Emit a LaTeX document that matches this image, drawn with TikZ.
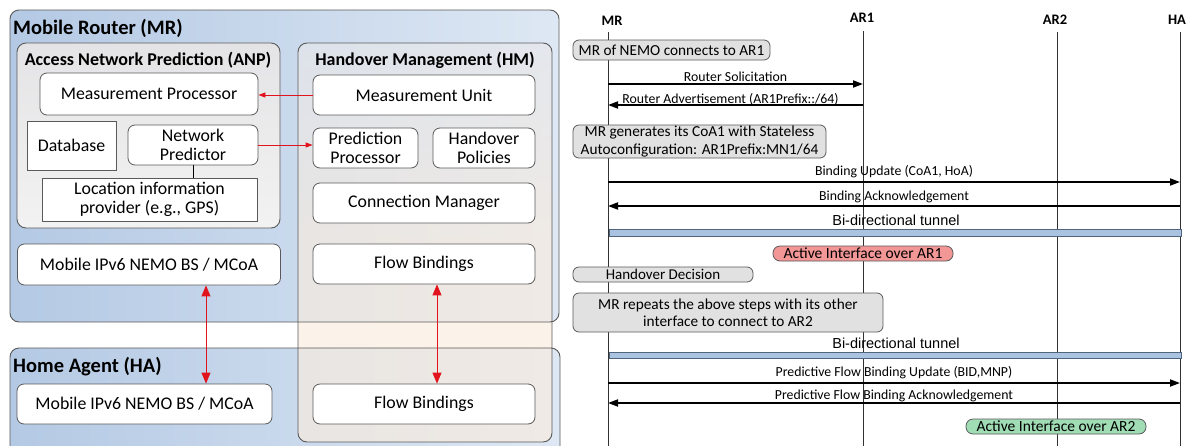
\documentclass[tikz,border=0pt]{standalone}
\usepackage{fontspec}
\setmainfont{Carlito}
\newfontfamily\arialf{Liberation Sans}
\usetikzlibrary{arrows.meta,calc}
\definecolor{mrA}{RGB}{180,201,228}
\definecolor{mrB}{RGB}{222,232,244}
\definecolor{greyA}{RGB}{228,228,230}
\definecolor{greyB}{RGB}{242,242,242}
\definecolor{hmA}{RGB}{232,232,234}
\definecolor{hmB}{RGB}{250,236,222}
\definecolor{boxgray}{RGB}{90,90,90}
\definecolor{arrred}{RGB}{225,20,30}
\definecolor{seqgrey}{RGB}{225,225,225}
\definecolor{actred}{RGB}{242,150,150}
\definecolor{actgreen}{RGB}{160,220,180}
\definecolor{tunfill}{RGB}{170,195,225}
\definecolor{tunline}{RGB}{80,100,125}
\definecolor{lifecol}{RGB}{50,50,50}
\begin{document}
\begin{tikzpicture}[x=1pt,y=-1pt,
  wbox/.style={draw=boxgray, line width=0.8pt, fill=white, rounded corners=7pt, align=center, inner sep=0pt, font=\fontsize{17.8}{19}\selectfont},
  sqbox/.style={wbox, rounded corners=0pt},
  grp/.style={draw=boxgray, line width=0.9pt, rounded corners=9pt},
  ttl/.style={font=\fontsize{20.5}{22}\selectfont\bfseries, anchor=west, inner sep=0pt},
  sttl/.style={font=\fontsize{18}{20}\selectfont\bfseries, inner sep=0pt},
  redarr/.style={draw=arrred, line width=0.8pt, -{Triangle[length=7pt,width=5pt]}},
  bigarr/.style={draw=arrred, line width=0.9pt, {Triangle[length=11pt,width=9pt]}-{Triangle[length=11pt,width=9pt]}},
  hdr/.style={font=\fontsize{14.5}{16}\selectfont\bfseries, inner sep=0pt},
  life/.style={draw=lifecol, line width=1pt},
  msg/.style={draw=black, line width=1.8pt, -{Triangle[length=10pt,width=7pt]}},
  mlab/.style={font=\fontsize{13.8}{15}\selectfont, inner sep=1pt},
  tlab/.style={font=\arialf\fontsize{14.5}{16}\selectfont, inner sep=1pt},
  gbox/.style={draw=boxgray, line width=0.8pt, fill=seqgrey, rounded corners=6pt, align=center, inner sep=0pt, font=\fontsize{15.3}{17.5}\selectfont},
  abox/.style={draw=boxgray, line width=0.8pt, rounded corners=7pt, inner sep=0pt, font=\fontsize{15.5}{16}\selectfont, minimum width=180pt, minimum height=15pt},
  tunnel/.style={draw=tunline, line width=0.8pt, fill=tunfill}
]
\useasboundingbox (0,0) rectangle (1189,445);
\clip (0,0) rectangle (1189,445);
\fill[white] (0,0) rectangle (1189,445);

% ---------------- group backgrounds ----------------
\shade[left color=mrA, right color=mrB, rounded corners=9pt] (10,10) rectangle (559,322);
\shade[left color=mrA, right color=mrB, rounded corners=9pt] (10,348) rectangle (560,470);
\shade[top color=greyA, bottom color=greyB, rounded corners=9pt] (17,43) rectangle (280,228);
\shade[top color=hmA, bottom color=hmB, middle color=hmB, rounded corners=9pt, opacity=0.65] (298,43) rectangle (552,442);
\draw[grp] (10,10) rectangle (559,322);
\draw[grp] (10,348) rectangle (560,470);
\draw[grp] (17,43) rectangle (280,228);
\draw[grp] (298,43) rectangle (552,442);

\node[ttl] (tMR) at (13,28) {Mobile Router (MR)};
\node[ttl] (tHA) at (13,367) {Home Agent (HA)};
\node[sttl] (tANP) at (148,60) {Access Network Prediction (ANP)};
\node[sttl] (tHM) at (425,60) {Handover Management (HM)};

% ---------------- inner boxes ----------------
\node[wbox, minimum width=218pt, minimum height=42pt] (MP) at (149,94) {Measurement Processor};
\node[sqbox, minimum width=89pt, minimum height=49pt] (DB) at (71.5,145.5) {Database};
\node[wbox, minimum width=130pt, minimum height=40pt, font=\fontsize{17.8}{18.5}\selectfont] (NP) at (193,145) {Network\\Predictor};
\node[sqbox, minimum width=215pt, minimum height=43pt, font=\fontsize{17.8}{18.5}\selectfont] (LIP) at (149.5,199.5) {Location information\\provider (e.g., GPS)};
\node[wbox, minimum width=222pt, minimum height=40pt] (MU) at (424,95) {Measurement Unit};
\node[wbox, minimum width=105pt, minimum height=40pt, font=\fontsize{17.8}{18.5}\selectfont] (PP) at (365.5,148) {Prediction\\Processor};
\node[wbox, minimum width=102pt, minimum height=40pt, font=\fontsize{17.8}{18.5}\selectfont] (HP) at (484,148) {Handover\\Policies};
\node[wbox, minimum width=222pt, minimum height=40pt] (CM) at (424,203) {Connection Manager};
\node[wbox, minimum width=263pt, minimum height=41pt] (MIPmr) at (149,264.5) {Mobile IPv6 NEMO BS / MCoA};
\node[wbox, minimum width=222pt, minimum height=40pt] (FBmr) at (424,264) {Flow Bindings};
\node[wbox, minimum width=255pt, minimum height=40pt] (MIPha) at (144.5,404) {Mobile IPv6 NEMO BS / MCoA};
\node[wbox, minimum width=222pt, minimum height=40pt] (FBha) at (424,404) {Flow Bindings};

\draw[draw=black, line width=0.8pt] (NP.south) -- (NP.south |- LIP.north);
\draw[redarr] (MU.west) -- (MU.west -| MP.east);
\draw[redarr] (NP.east) -- (NP.east -| PP.west);
\coordinate (ax1) at (206,0);
\coordinate (ax2) at (437,0);
\draw[bigarr] (MIPmr.south -| ax1) -- (MIPha.north -| ax1);
\draw[bigarr] (FBmr.south -| ax2) -- (FBha.north -| ax2);

% ---------------- sequence diagram ----------------
\node[hdr] (hMR) at (612,21) {MR};
\node[hdr] (hAR1) at (862,18) {AR1};
\node[hdr] (hAR2) at (1055,20) {AR2};
\node[hdr] (hHA) at (1177,20) {HA};
\coordinate (lMR) at (608,32);
\coordinate (lAR1) at (863,31);
\coordinate (lAR2) at (1057,32);
\coordinate (lHA) at (1180,32);
\coordinate (bot) at (0,450);
\draw[life] (lMR) -- (lMR |- bot);
\draw[life] (lAR1) -- (lAR1 |- bot);
\draw[life] (lAR2) -- (lAR2 |- bot);
\draw[life] (lHA) -- (lHA |- bot);

\node[gbox, minimum width=197pt, minimum height=20pt] (s1) at (671.5,50) {MR of NEMO connects to AR1};

\coordinate (yRS) at (0,84);
\coordinate (yRA) at (0,105);
\draw[msg] (lMR |- yRS) -- (lAR1 |- yRS) node[mlab, midway, above=1pt] (lRS) {Router Solicitation};
\draw[msg] (lAR1 |- yRA) -- (lMR |- yRA) node[mlab, midway, above=-2.5pt, xshift=-5pt] (lRA) {Router Advertisement (AR1Prefix::/64)};

\node[gbox, minimum width=253pt, minimum height=33pt] (s2) at (699.5,141.5) {MR generates its CoA1 with Stateless\\Autoconfiguration: AR1Prefix:MN1/64};

\coordinate (yBU) at (0,182);
\coordinate (yBA) at (0,206);
\draw[msg] (lMR |- yBU) -- (lHA |- yBU) node[mlab, midway, above=2pt] (lBU) {Binding Update (CoA1, HoA)};
\draw[msg] (lHA |- yBA) -- (lMR |- yBA) node[mlab, midway, above=1pt] (lBA) {Binding Acknowledgement};

\coordinate (t1a) at (0,229);
\coordinate (t1b) at (0,236);
\draw[tunnel] ($(lMR |- t1a)+(1,0)$) rectangle ($(lHA |- t1b)+(1,0)$);
\node[tlab] (lT1) at (896,220) {Bi-directional tunnel};

\node[abox, fill=actred] (act1) at (863,253.5) {Active Interface over AR1};
\node[gbox, minimum width=180pt, minimum height=15pt, font=\fontsize{15}{16}\selectfont] (s3) at (663,274.5) {Handover Decision};
\node[gbox, minimum width=310pt, minimum height=39pt] (s4) at (728,312.5) {MR repeats the above steps with its other\\interface to connect to AR2};

\coordinate (t2a) at (0,352);
\coordinate (t2b) at (0,358);
\draw[tunnel] ($(lMR |- t2a)+(1,0)$) rectangle ($(lHA |- t2b)+(1,0)$);
\node[tlab] (lT2) at (896,343) {Bi-directional tunnel};

\coordinate (yPU) at (0,383);
\coordinate (yPA) at (0,403);
\draw[msg] (lMR |- yPU) -- (lHA |- yPU) node[mlab, midway, above=2pt] (lPU) {Predictive Flow Binding Update (BID,MNP)};
\draw[msg] (lHA |- yPA) -- (lMR |- yPA) node[mlab, midway, above=-0.5pt] (lPA) {Predictive Flow Binding Acknowledgement};

\node[abox, fill=actgreen] (act2) at (1056,426.5) {Active Interface over AR2};
\end{tikzpicture}
\end{document}
